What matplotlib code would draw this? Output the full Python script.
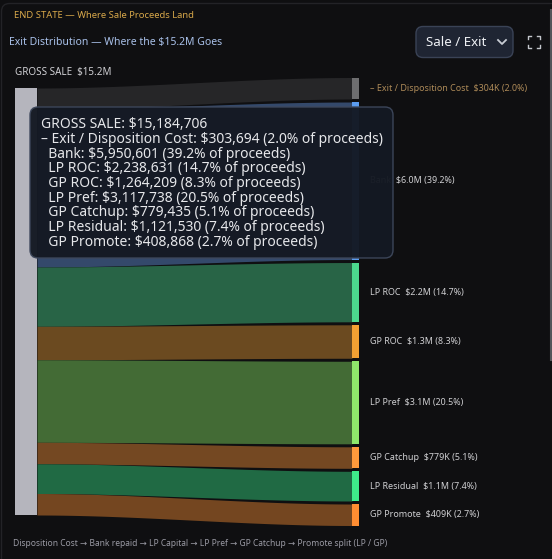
import numpy as np
import matplotlib
matplotlib.use("Agg")
import matplotlib.pyplot as plt
from matplotlib.patches import FancyBboxPatch, Rectangle

plt.rcParams['font.family'] = ['Noto Sans', 'DejaVu Sans']

# --- data -------------------------------------------------------------
gross_sale = 15184706
targets = ["– Exit / Disposition Cost", "Bank", "LP ROC", "GP ROC", "LP Pref",
           "GP Catchup", "LP Residual", "GP Promote"]
amounts = [303694, 5950601, 2238631, 1264209, 3117738, 779435, 1121530, 408868]
node_colors = ["#6e6e70", "#5b9cf0", "#4cd98e", "#f2a033", "#8fe86b",
               "#ff9a3c", "#3eec8a", "#ff8d32"]
flow_colors = ["#262628", "#34496b", "#286446", "#6b4a20", "#436b35",
               "#744822", "#206a44", "#744620"]
label_colors = ["#ad8a58"] + ["#cfcfd2"] * 7

BG = "#0f0f11"

# --- layout (pixel space) --------------------------------------------
W, H = 552, 559
fig = plt.figure(figsize=(W / 100, H / 100), dpi=100, facecolor=BG)
ax = fig.add_axes([0, 0, 1, 1])
ax.set_xlim(0, W)
ax.set_ylim(H, 0)
ax.axis('off')
ax.set_facecolor(BG)

left_x0, left_x1 = 15, 37
right_x0, right_x1 = 352, 359
top = 88
total_h = 427
gap = 3
hmin = 21.5

vals = np.array(amounts, dtype=float)
# scale values with a minimum node height
fixed = np.zeros(len(vals), bool)
for _ in range(10):
    k = (total_h - hmin * fixed.sum()) / vals[~fixed].sum()
    new_fixed = vals * k < hmin
    if (new_fixed == fixed).all():
        break
    fixed = new_fixed
heights = np.where(fixed, hmin, vals * k)

# left node
ax.add_patch(Rectangle((left_x0, top), left_x1 - left_x0, total_h,
                       fc="#b5b5bd", ec="none", zorder=3))

right_top = top + total_h / 2 - (total_h + gap * (len(vals) - 1)) / 2
xs = np.linspace(left_x1, right_x0, 200)
t = (xs - left_x1) / (right_x0 - left_x1)
s = 3 * t ** 2 - 2 * t ** 3

ly = top
ry = right_top
for i, h in enumerate(heights):
    t0 = ly + (ry - ly) * s
    b0 = (ly + h) + ((ry + h) - (ly + h)) * s
    ax.fill_between(xs, t0, b0, color=flow_colors[i], lw=0, zorder=2)
    ax.add_patch(Rectangle((right_x0, ry), right_x1 - right_x0, h,
                           fc=node_colors[i], ec="none", zorder=3))
    v = amounts[i]
    short = f"${v / 1e6:.1f}M" if v >= 1e6 else f"${v / 1e3:.0f}K"
    ax.text(370, ry + h / 2, f"{targets[i]}  {short} ({v / gross_sale * 100:.1f}%)",
            color=label_colors[i], fontsize=6.45, va='center', ha='left', zorder=4)
    ly += h
    ry += h + gap

# --- headers ------------------------------------------------------------
ax.text(14, 15, "END STATE — Where Sale Proceeds Land", color="#d8a84a",
        fontsize=6.8, va='center')
ax.text(9, 42, f"Exit Distribution — Where the ${gross_sale / 1e6:.1f}M Goes",
        color="#a9c1ea", fontsize=7.5, va='center')
ax.text(15, 72, f"GROSS SALE  ${gross_sale / 1e6:.1f}M", color="#d0d0d4",
        fontsize=7.1, va='center')
ax.text(13, 543, "Disposition Cost → Bank repaid → LP Capital → LP Pref → "
        "GP Catchup → Promote split (LP / GP)", color="#9a9aa4",
        fontsize=6.1, va='center')

# card outline and scrollbar
ax.add_patch(FancyBboxPatch((1.5, 3.5), 560, 600,
                            boxstyle="round,pad=0,rounding_size=8",
                            fc="none", ec="#232327", lw=1, zorder=1))
ax.plot([551, 551], [10, 360], color="#55555a", lw=1.5, zorder=5)

# dropdown
ax.add_patch(FancyBboxPatch((416, 26.5), 97, 31,
                            boxstyle="round,pad=0,rounding_size=7",
                            fc="#1f2533", ec="#3a4356", lw=1, zorder=5))
ax.text(426, 42, "Sale / Exit", color="#eef0f4", fontsize=9.6, va='center',
        zorder=6)
ax.plot([498, 502, 506], [40, 44, 40], color="#c8ccd4", lw=1.3, zorder=6)

# fullscreen icon
for cx, cy, dx, dy in [(528, 36, 1, 1), (540, 36, -1, 1), (528, 48, 1, -1), (540, 48, -1, -1)]:
    ax.plot([cx, cx, cx + 3 * dx], [cy + 3 * dy, cy, cy], color="#c4c7cd",
            lw=1.0, zorder=6)

# --- tooltip ---------------------------------------------------------------
ax.add_patch(FancyBboxPatch((30, 107), 363, 151,
                            boxstyle="round,pad=0,rounding_size=8",
                            fc="#141923", ec="#3d475b", lw=1, alpha=0.97,
                            zorder=7))
lines = [f"GROSS SALE: ${gross_sale:,.0f}"]
for i, v in enumerate(amounts):
    indent = "" if i == 0 else "  "
    lines.append(f"{indent}{targets[i]}: ${v:,.0f} ({v / gross_sale * 100:.1f}% of proceeds)")
for j, line in enumerate(lines):
    ax.text(41, 124.5 + j * 14.75, line, color="#e6e7ea", fontsize=10,
            va='center', ha='left', zorder=8)

fig.savefig("out.png", dpi=100, facecolor=BG)
